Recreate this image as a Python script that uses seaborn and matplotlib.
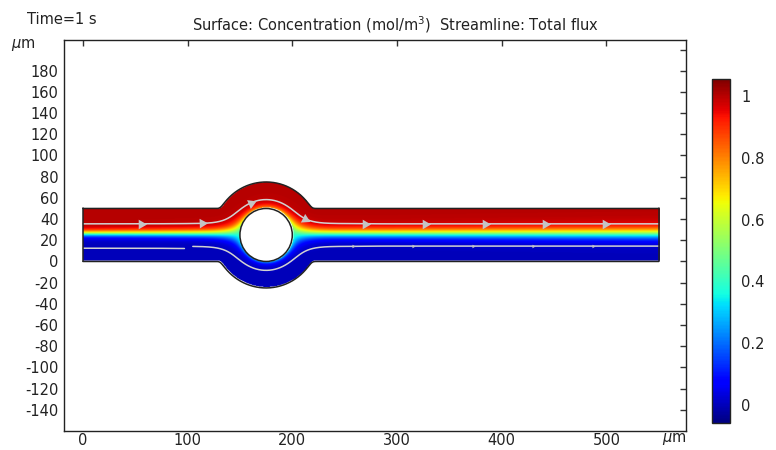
import numpy as np
import matplotlib
matplotlib.use("Agg")
import matplotlib.pyplot as plt
from matplotlib.colors import Normalize
from matplotlib.patches import Circle
import seaborn as sns

# ---------------- data ----------------
channel_length = 550.0
channel_height = 50.0
chamber_center = [175.0, 25.0]
chamber_radius = 50.0
obstacle_radius = 25.0

inlet_width = 0.073        # interface width (stream-function units) at the inlet
outlet_width = 0.13        # interface width at the outlet
interface_level = 0.52     # stream-function value of the c=0.5 interface
obstacle_top_shift = 0.06  # enrichment on the upper side of the obstacle

upper_stream_level = 0.71
lower_stream_levels = [0.25, 0.29]
lower_stream_ranges = [(0, 97), (105, 550)]
upper_arrow_x = [56, 114, 161, 212, 269, 327, 384, 441, 499]
lower_arrow_x = [258, 315, 373, 430, 487]

x_ticks = [0, 100, 200, 300, 400, 500]
x_tick_labels = ["0", "100", "200", "300", "400", "500"]
y_ticks = list(range(-140, 201, 20))
y_tick_labels = [str(v) for v in y_ticks[:-1]] + [""]
cbar_ticks = [0, 0.2, 0.4, 0.6, 0.8, 1.0]
cbar_labels = ["0", "0.2", "0.4", "0.6", "0.8", "1"]
c_min, c_max = -0.058, 1.055

title_text = "Surface: Concentration (mol/m$^3$)  Streamline: Total flux"
time_text = "Time=1 s"
unit_text = r"$\mu$m"

# ---------------- style ----------------
sns.set_style("white")
plt.rcParams["font.family"] = ["DejaVu Sans"]
plt.rcParams["mathtext.fontset"] = "dejavusans"
FS = 10.5

# ---------------- geometry / field ----------------
cx, cy = chamber_center
K = 2.0


def half_height(x):
    s = np.sqrt(np.clip(chamber_radius ** 2 - (x - cx) ** 2, 0, None))
    return K * np.logaddexp((channel_height / 2) / K, s / K)


dx = 0.5
xs = np.arange(0, channel_length + dx / 2, dx)
ys = np.arange(-28, 78 + dx / 2, dx)
X, Y = np.meshgrid(xs, ys)
HH = half_height(X)
R = np.hypot(X - cx, Y - cy)
fluid = (np.abs(Y - cy) < HH) & (R > obstacle_radius)
show = (np.abs(Y - cy) < HH - 0.4) & (R > obstacle_radius + 0.4)

psi = np.where(Y > cy, 1.0, 0.0)
psi[R <= obstacle_radius] = 0.5
alg = (Y - (cy - HH)) / (2 * HH)
psi[fluid] = alg[fluid]

i0, i1 = int(70 / dx), int(285 / dx)
sub = psi[:, i0:i1].copy()
upd = fluid[:, i0:i1].copy()
upd[:, 0] = False
upd[:, -1] = False
upd[0, :] = False
upd[-1, :] = False
I, J = np.indices(sub.shape)
red = (I + J) % 2 == 0
masks = [upd & red, upd & ~red]
omega = 1.94
avg = np.zeros_like(sub)
for _ in range(900):
    for m in masks:
        avg[1:-1, 1:-1] = 0.25 * (sub[2:, 1:-1] + sub[:-2, 1:-1] + sub[1:-1, 2:] + sub[1:-1, :-2])
        sub[m] += omega * (avg[m] - sub[m])
psi[:, i0:i1] = sub

w = np.sqrt(inlet_width ** 2 + (outlet_width ** 2 - inlet_width ** 2) * X / channel_length)
sin_t = (Y - cy) / np.maximum(R, 1e-6)
dist = np.clip(R - obstacle_radius, 0, None)
shift = obstacle_top_shift * np.clip(sin_t, 0, None) * np.exp(-dist / 8.0)
conc = 0.5 * (1 + np.tanh((psi + shift - interface_level) / w))
C = np.ma.masked_where(~show, conc)


def stream_y(level, xmin, xmax):
    cols = np.where((xs >= xmin) & (xs <= xmax))[0]
    ox, oy = [], []
    for j in cols:
        sel = fluid[:, j].copy()
        if abs(xs[j] - cx) < obstacle_radius:
            sel &= (ys > cy) if level > 0.5 else (ys < cy)
        yy = ys[sel]
        pp = psi[sel, j]
        order = np.argsort(pp)
        ox.append(xs[j])
        oy.append(np.interp(level, pp[order], yy[order]))
    return np.array(ox), np.array(oy)


# ---------------- figure ----------------
W, H = 776, 450
fig = plt.figure(figsize=(W / 100, H / 100), dpi=100)
ax = fig.add_axes([64 / W, 19 / H, 622 / W, 391 / H])
ax.set_xlim(-18, 576)
ax.set_ylim(-160, 209)

cmap = plt.get_cmap("jet").copy()
cmap.set_bad((1, 1, 1, 0))
ax.imshow(C, extent=[xs[0] - dx / 2, xs[-1] + dx / 2, ys[0] - dx / 2, ys[-1] + dx / 2],
          origin="lower", cmap=cmap, vmin=c_min, vmax=c_max,
          interpolation="bilinear", aspect="auto", zorder=1)

# streamlines
line_col = "#d2d2d2"
arrow_col = "#c4c4c4"
sx, sy = stream_y(upper_stream_level, 0, channel_length)
sns.lineplot(x=sx, y=sy, ax=ax, color=line_col, lw=1.1, estimator=None, sort=False, legend=False, zorder=3)
dy = np.gradient(sy, sx)
for xa in upper_arrow_x:
    ya = np.interp(xa, sx, sy)
    ang = np.degrees(np.arctan(np.interp(xa, sx, dy)))
    ax.plot([xa], [ya], marker=(3, 0, ang - 90), ms=8, color=arrow_col, mec="none", zorder=4)

for lev, (a, b) in zip(lower_stream_levels, lower_stream_ranges):
    lx, ly = stream_y(lev, a, b)
    sns.lineplot(x=lx, y=ly, ax=ax, color=line_col, lw=1.1, estimator=None, sort=False, legend=False, zorder=3)
    if a > 100:
        ldy = np.gradient(ly, lx)
        for xa in lower_arrow_x:
            ya = np.interp(xa, lx, ly)
            ang = np.degrees(np.arctan(np.interp(xa, lx, ldy)))
            ax.plot([xa], [ya], marker=(3, 0, ang - 90), ms=3, color=arrow_col, mec="none", zorder=4)

# outlines
xo = np.linspace(0, channel_length, 3000)
ho = half_height(xo)
oc = "#222222"
ax.plot(xo, cy + ho, color=oc, lw=1.1, zorder=5, solid_capstyle="round")
ax.plot(xo, cy - ho, color=oc, lw=1.1, zorder=5, solid_capstyle="round")
ax.plot([0, 0], [cy - ho[0], cy + ho[0]], color=oc, lw=1.1, zorder=5)
ax.plot([channel_length] * 2, [cy - ho[-1], cy + ho[-1]], color=oc, lw=1.1, zorder=5)
ax.add_patch(Circle((cx, cy), obstacle_radius, fill=False, ec=oc, lw=1.1, zorder=5))

# axes styling
ax.set_xticks(x_ticks)
ax.set_xticklabels(x_tick_labels)
ax.set_yticks(y_ticks)
ax.set_yticklabels(y_tick_labels)
ax.tick_params(direction="in", length=4, width=1, color="#333333", labelsize=FS,
               top=True, right=True, labeltop=False, labelright=False, pad=4,
               labelcolor="#222222")
ax.tick_params(axis="x", pad=1.5)
for sp in ax.spines.values():
    sp.set_visible(True)
    sp.set_color("#222222")
    sp.set_linewidth(1.0)
ax.grid(False)

# colorbar
cax = fig.add_axes([712 / W, 27 / H, 18 / W, 344 / H])
sm = plt.cm.ScalarMappable(norm=Normalize(c_min, c_max), cmap="jet")
cb = fig.colorbar(sm, cax=cax)
cb.set_ticks(cbar_ticks)
cb.set_ticklabels(cbar_labels)
cax.tick_params(direction="in", length=4, width=1, color="#333333", labelsize=FS, pad=8,
                labelcolor="#222222")
cb.outline.set_edgecolor("#222222")
cb.outline.set_linewidth(1.0)

# texts
fig.text(27 / W, 1 - 20 / H, time_text, ha="left", va="center", fontsize=FS, color="#222222")
fig.text(395 / W, 1 - 25 / H, title_text, ha="center", va="center", fontsize=FS, color="#222222")
fig.text(11 / W, 1 - 45 / H, unit_text, ha="left", va="center", fontsize=FS, color="#222222")
fig.text(662 / W, 1 - 439 / H, unit_text, ha="left", va="center", fontsize=FS, color="#222222")

fig.savefig("out.png", dpi=100)
